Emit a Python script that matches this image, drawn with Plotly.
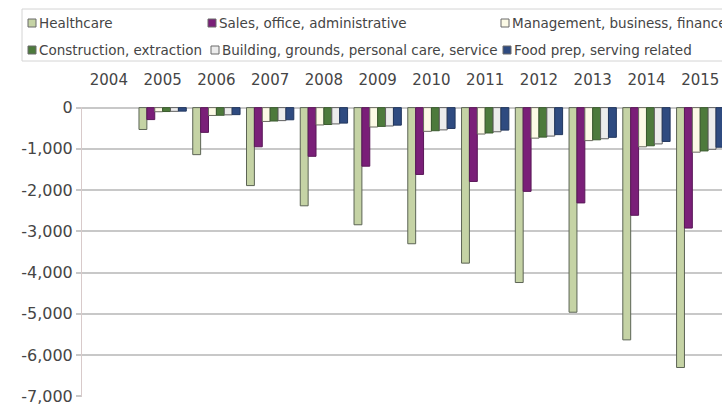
import plotly.graph_objects as go

years = [str(y) for y in range(2004, 2016)]

healthcare = [0, -530, -1140, -1890, -2380, -2840, -3300, -3770, -4240, -4960, -5630, -6300]
sales = [0, -290, -600, -950, -1180, -1420, -1620, -1790, -2030, -2310, -2610, -2920]
management = [0, -100, -190, -335, -420, -470, -575, -640, -740, -800, -950, -1080]
construction = [0, -95, -185, -325, -410, -455, -560, -615, -715, -780, -925, -1050]
building = [0, -90, -175, -315, -395, -445, -540, -585, -690, -755, -880, -1010]
food_prep = [0, -85, -170, -295, -375, -425, -505, -545, -655, -720, -820, -960]

y_ticks = [0, -1000, -2000, -3000, -4000, -5000, -6000, -7000]
y_tick_labels = ["0", "-1,000", "-2,000", "-3,000", "-4,000", "-5,000", "-6,000", "-7,000"]

# name, values, fill, outline, legend key position (icon left px, row centre px)
series = [
    ("Healthcare", healthcare, "#c5d3a5", "#5c6455", (28, 23)),
    ("Sales, office, administrative", sales, "#7a1f78", "#5a1858", (208, 23)),
    ("Management, business, finance", management, "#fcfae6", "#6a6a60", (501, 23)),
    ("Construction, extraction", construction, "#4d7a3c", "#3a5a2e", (28, 50)),
    ("Building, grounds, personal care, service", building, "#ececec", "#606060", (211, 50)),
    ("Food prep, serving related", food_prep, "#2f4b80", "#22375e", (503, 50)),
]

FONT = "DejaVu Sans"
TEXT = "#454545"
GRID = "#c8c8c8"

# plot area spans x 82..722 px, y 107..397 px
PL, PR, PT, PB = 82, 722, 107, 397


def px_x(p):
    return (p - PL) / (PR - PL)


def px_y(p):
    return (PB - p) / (PB - PT)


fig = go.Figure()
for name, vals, color, edge, _ in series:
    fig.add_trace(go.Bar(
        x=years, y=vals, name=name, showlegend=False,
        marker=dict(color=color,
                    line=dict(color=edge, width=[0 if v == 0 else 1 for v in vals])),
    ))

# legend keys and labels
for name, _, color, edge, (ix, ry) in series:
    fig.add_shape(
        type="rect", xref="paper", yref="paper",
        x0=px_x(ix), x1=px_x(ix + 8), y0=px_y(ry + 4), y1=px_y(ry - 4),
        fillcolor=color, line=dict(color="#6a6a6a", width=1),
    )
    fig.add_annotation(
        text=name, xref="paper", yref="paper",
        x=px_x(ix + 9), y=px_y(ry), xanchor="left", yanchor="middle",
        showarrow=False, font=dict(family=FONT, size=13.5, color=TEXT),
    )

# frame around the legend rows
fig.add_shape(
    type="rect", xref="paper", yref="paper",
    x0=px_x(22), x1=px_x(740), y0=px_y(61), y1=px_y(9),
    line=dict(color="#d4d4d4", width=1), fillcolor="rgba(0,0,0,0)",
)

fig.update_layout(
    template="none",
    width=722, height=407,
    margin=dict(l=PL, r=0, t=PT, b=407 - PB, autoexpand=False),
    paper_bgcolor="white", plot_bgcolor="white",
    barmode="group", bargap=0.12, bargroupgap=0,
    showlegend=False,
    font=dict(family=FONT, color=TEXT),
)

fig.update_xaxes(
    type="category", side="top", range=[-0.5, 11.405],
    showgrid=False, showline=False, zeroline=False,
    ticks="outside", ticklen=15, tickcolor="rgba(0,0,0,0)",
    tickfont=dict(family=FONT, size=15, color=TEXT),
)
fig.update_yaxes(
    range=[-7015, 15], tickmode="array", tickvals=y_ticks, ticktext=y_tick_labels,
    showgrid=True, gridcolor=GRID, gridwidth=1.5,
    zeroline=True, zerolinecolor=GRID, zerolinewidth=1.5,
    showline=True, linecolor="#d8caca", linewidth=1,
    ticks="outside", ticklen=5, tickcolor=GRID, tickwidth=1.5,
    tickfont=dict(family=FONT, size=16, color=TEXT),
)

fig.write_html("out.html")
